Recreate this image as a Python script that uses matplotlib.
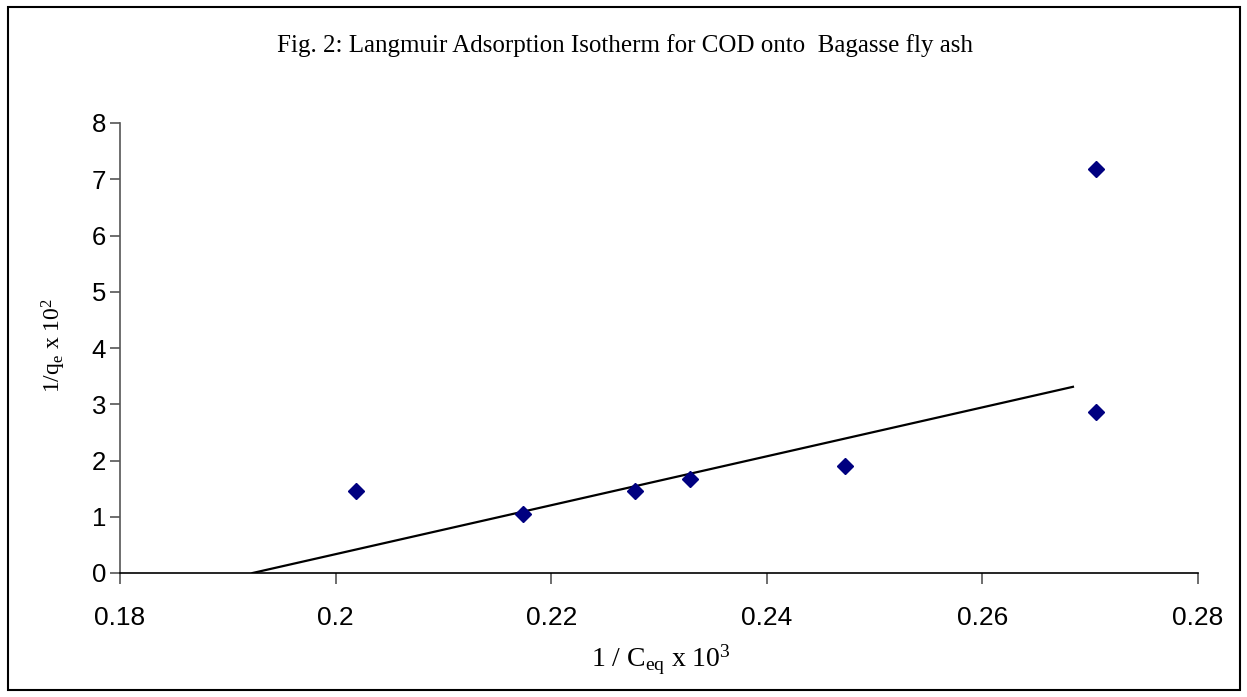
import matplotlib
matplotlib.use("Agg")
import matplotlib.pyplot as plt
from matplotlib.patches import Rectangle

# Data
x_vals = [0.2019, 0.2174, 0.2278, 0.2329, 0.2473, 0.2705, 0.2705]
y_vals = [1.45, 1.05, 1.46, 1.67, 1.91, 2.87, 7.18]
trend_x = [0.1923, 0.2684]
trend_y = [0.0, 3.31]
x_ticks = [0.18, 0.2, 0.22, 0.24, 0.26, 0.28]
x_tick_labels = ["0.18", "0.2", "0.22", "0.24", "0.26", "0.28"]
y_ticks = [0, 1, 2, 3, 4, 5, 6, 7, 8]

W, H = 1247, 697
serif = "Liberation Serif"
plt.rcParams["mathtext.fontset"] = "custom"
plt.rcParams["mathtext.rm"] = serif
plt.rcParams["mathtext.it"] = serif + ":italic"

fig = plt.figure(figsize=(W / 100, H / 100), dpi=100)
fig.patches.append(Rectangle((8 / W, 7 / H), (1240 - 8) / W, (690 - 7) / H,
                             transform=fig.transFigure, fill=False,
                             edgecolor="black", linewidth=1.5))

ax = fig.add_axes([120 / W, 1 - 573 / H, (1198 - 120) / W, (573 - 123) / H])
ax.plot(trend_x, trend_y, color="black", linewidth=1.6, zorder=2)
ax.plot(x_vals, y_vals, linestyle="none", marker="D", markersize=8.5,
        color="#000080", zorder=3)

ax.set_xlim(0.18, 0.28)
ax.set_ylim(0, 8)
ax.set_xticks(x_ticks)
ax.set_xticklabels(x_tick_labels)
ax.set_yticks(y_ticks)
for s in ["top", "right"]:
    ax.spines[s].set_visible(False)
ax.spines["left"].set_color("#555555")
ax.spines["left"].set_linewidth(1.2)
ax.spines["bottom"].set_color("black")
ax.spines["bottom"].set_linewidth(1.2)
ax.tick_params(axis="x", direction="out", length=8, width=1.2, pad=16,
               labelsize=19, color="#555555")
ax.tick_params(axis="y", direction="out", length=7, width=1.2, pad=3,
               labelsize=18.5, color="#555555")
for lab in ax.get_xticklabels() + ax.get_yticklabels():
    lab.set_fontfamily("Liberation Sans")

fig.text(625 / W, 1 - 46 / H,
         "Fig. 2: Langmuir Adsorption Isotherm for COD onto  Bagasse fly ash",
         ha="center", va="center", fontsize=18, family=serif)
fig.text(661 / W, 1 - 660 / H, r"1 / C$_{\mathrm{eq}}$ x 10$^{\mathrm{3}}$",
         ha="center", va="center", fontsize=20, family=serif)
fig.text(54 / W, 1 - 345 / H, r"1/q$_{\mathrm{e}}$ x 10$^{\mathrm{2}}$",
         ha="center", va="center", fontsize=17, family=serif, rotation=90)

fig.savefig("out.png", dpi=100)
